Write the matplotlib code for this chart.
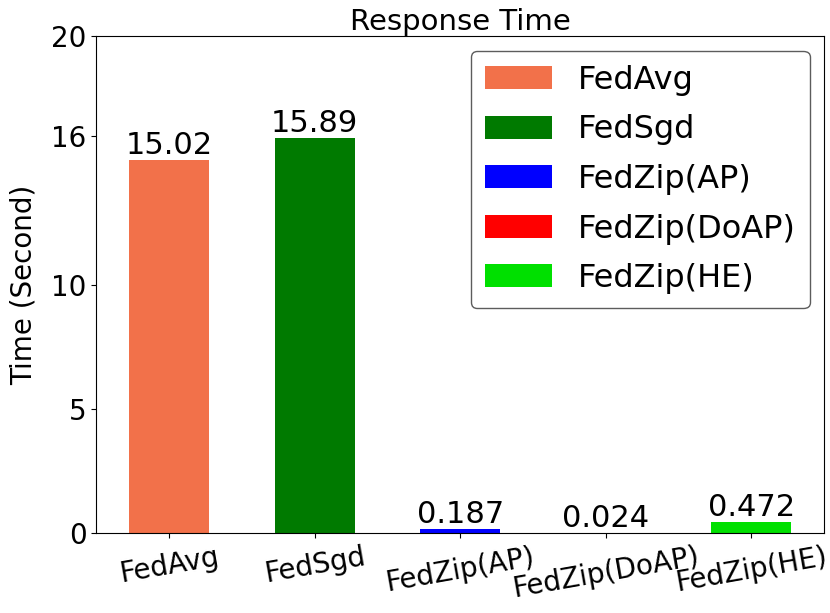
import numpy as np
import matplotlib as mpl
mpl.use("Agg")
from matplotlib import pyplot as plt

methods = ["FedAvg", "FedSgd", "FedZip(AP)", "FedZip(DoAP)", "FedZip(HE)"]
times = [15.02, 15.89, 0.187, 0.024, 0.472]
labels = ["15.02", "15.89", "0.187", "0.024", "0.472"]
colors = ["#F2714A", "#007A00", "#0000FF", "#FF0000", "#00E000"]
yticks = [0, 5, 10, 16, 20]

fig = plt.figure(figsize=(8.3, 6.13), dpi=100)
ax = fig.add_axes([0.116, 0.130, 0.877, 0.811])

x = np.arange(len(methods))
bars = ax.bar(x, times, width=0.55, color=colors, label=methods)
for b, lab in zip(bars, labels):
    ax.text(b.get_x() + b.get_width() / 2, b.get_height(), lab,
            ha="center", va="bottom", fontsize=22)

ax.set_ylim(0, 20)
ax.set_yticks(yticks)
ax.set_xticks(x)
ax.set_xticklabels(methods, rotation=10, fontsize=20)
ax.tick_params(axis="y", labelsize=20)
ax.set_ylabel("Time (Second)", fontsize=20, labelpad=10)
ax.set_title("Response Time", fontsize=21, pad=3)

ax.legend(loc="upper right", fontsize=23, handlelength=2.1, handleheight=0.72,
          borderpad=0.45, labelspacing=0.58, handletextpad=0.8,
          borderaxespad=0.45, edgecolor="#333333")

fig.savefig("out.png", dpi=100)
